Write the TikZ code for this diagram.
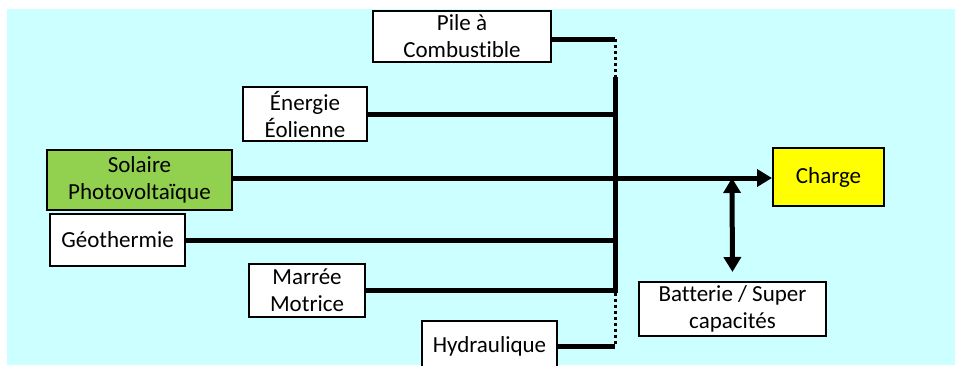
\documentclass[tikz,border=0pt]{standalone}
\usepackage{fontspec}
\setmainfont{Carlito}[Ligatures={NoCommon}]
\usetikzlibrary{arrows.meta,calc}
\definecolor{bgcyan}{HTML}{CCFFFF}
\definecolor{solgreen}{HTML}{92D050}
\definecolor{chyellow}{HTML}{FFFF00}
\tikzset{
  box/.style={draw=black, line width=2pt, fill=white, inner sep=0pt, align=center,
    font=\fontsize{23}{27}\selectfont},
  wire/.style={line width=5pt, line cap=butt},
  dotwire/.style={line width=3pt, dash pattern=on 3pt off 3pt},
}
\begin{document}
\begin{tikzpicture}[x=1pt,y=-1pt]
\useasboundingbox (0,0) rectangle (955,365);
\clip (0,0) rectangle (955,365);
\fill[bgcyan] (7,9) rectangle (955,365);

\node[box, minimum width=178pt, minimum height=51pt] (pile) at (462,36.5) {Pile à\\Combustible};
\node[box, minimum width=124pt, minimum height=54pt] (eol) at (305,114) {Énergie\\Éolienne};
\node[box, fill=solgreen, minimum width=185pt, minimum height=60pt] (sol) at (139.5,180) {Solaire\\Photovoltaïque};
\node[box, minimum width=135pt, minimum height=52pt] (geo) at (117.5,240) {Géothermie};
\node[box, minimum width=116pt, minimum height=53pt] (mar) at (307,290) {Marrée\\Motrice};
\node[box, minimum width=135pt, minimum height=50pt] (hyd) at (489.5,346) {Hydraulique};
\node[box, fill=chyellow, minimum width=111pt, minimum height=58pt] (charge) at (828.5,177) {Charge};
\node[box, minimum width=187pt, minimum height=54pt] (bat) at (732.5,309) {Batterie / Super\\capacités};

\coordinate (pT) at (615,39);
\coordinate (bT) at (615,77);
\coordinate (bB) at (615,292.5);
\coordinate (hB) at (615,346);
\coordinate (jn) at (732,178);

% bus
\draw[wire] (bT) -- (bB);
\draw[dotwire] (pT) -- (bT);
\draw[dotwire] (bB) -- (hB);

% feeders
\draw[wire] ($(pile.east)+(0,2.5)$) -- (pT);
\draw[wire] (eol.east) -- (eol.east -| bT);
\draw[wire] (geo.east) -- (geo.east -| bT);
\draw[wire] (mar.east) -- (mar.east -| bB);
\draw[wire] (hyd.east) -- (hyd.east -| hB);

% main line to charge
\draw[wire, -{Triangle[length=15pt,width=17pt]}] (sol.east |- jn) -- (charge.west |- jn);

% battery double arrow
\draw[wire, {Triangle[length=15pt,width=17pt]}-{Triangle[length=15pt,width=17pt]}, shorten >=9pt] (jn) -- (bat.north);
\end{tikzpicture}
\end{document}
